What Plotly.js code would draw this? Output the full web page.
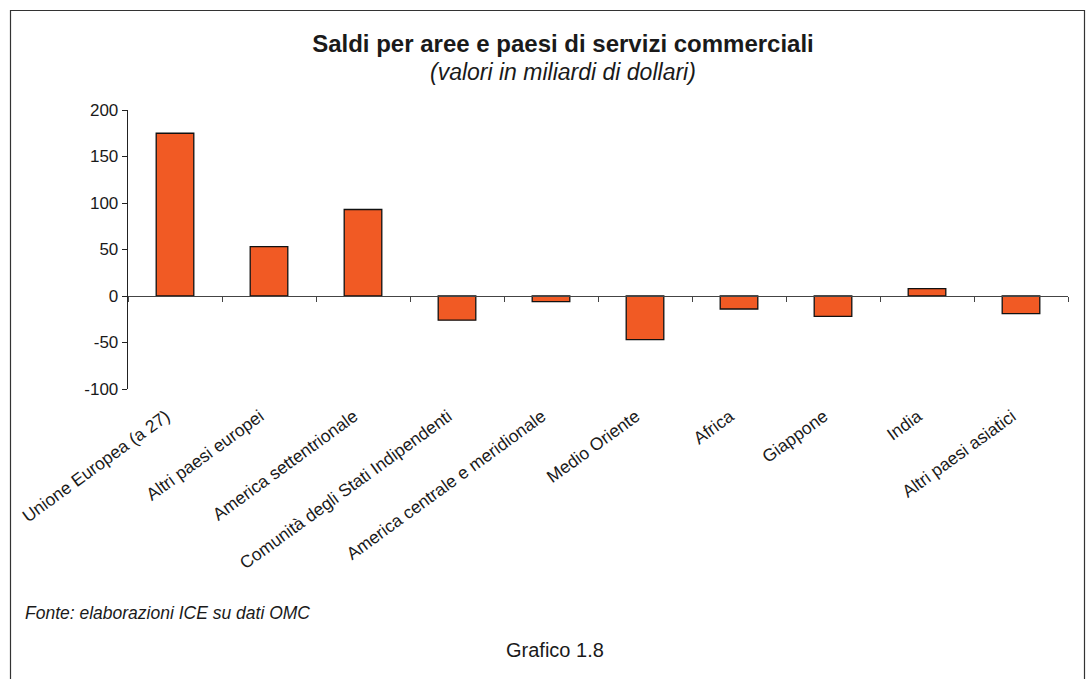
<!DOCTYPE html>
<html>
<head>
<meta charset="utf-8">
<script src="https://cdn.plot.ly/plotly-3.0.1.min.js"></script>
<style>
html,body{margin:0;padding:0;background:#fff;}
#chart{width:1091px;height:679px;}
</style>
</head>
<body>
<div id="chart"></div>
<script>
const categories = [
  "Unione Europea (a 27)",
  "Altri paesi europei",
  "America settentrionale",
  "Comunità degli Stati Indipendenti",
  "America centrale e meridionale",
  "Medio Oriente",
  "Africa",
  "Giappone",
  "India",
  "Altri paesi asiatici"
];
const saldi = [175, 53, 93, -26, -6, -47, -14, -22, 8, -19];
const yTicks = [-100, -50, 0, 50, 100, 150, 200];

const FONT = '"Liberation Sans", Arial, Helvetica, sans-serif';
const W = 1091, H = 679;
const L = 128, R = 1068, T = 110, B = 389;
const pw = R - L, ph = B - T;
const px = v => (v - L) / pw;
const py = v => (B - v) / ph;

const traces = [
  {
    type: 'bar',
    x: categories,
    y: saldi,
    xaxis: 'x',
    yaxis: 'y',
    marker: {color: '#F15A24', line: {color: '#111', width: 1.3}},
    hoverinfo: 'x+y'
  },
  {
    type: 'scatter',
    mode: 'markers',
    x: categories,
    y: categories.map(() => 0),
    xaxis: 'x2',
    yaxis: 'y',
    marker: {opacity: 0},
    hoverinfo: 'skip',
    showlegend: false
  }
];

const layout = {
  width: W, height: H,
  margin: {l: L, r: W - R, t: T, b: H - B, pad: 0},
  paper_bgcolor: '#fff',
  plot_bgcolor: '#fff',
  showlegend: false,
  bargap: 0.6,
  font: {family: FONT, color: '#1a1a1a'},
  title: {
    text: '<b>Saldi per aree e paesi di servizi commerciali</b>',
    font: {family: FONT, size: 24, color: '#1a1a1a'},
    xref: 'paper', x: px(563), xanchor: 'center',
    yref: 'container', y: 1 - 44 / H, yanchor: 'middle'
  },
  xaxis: {
    type: 'category',
    categoryarray: categories,
    range: [-0.5, categories.length - 0.5],
    showline: false,
    ticks: '',
    showgrid: false,
    zeroline: false,
    tickangle: -36,
    tickfont: {family: FONT, size: 17.5, color: '#1a1a1a'},
    ticklabelstandoff: 13,
    ticklabelshift: -9,
    fixedrange: true
  },
  xaxis2: {
    type: 'category',
    categoryarray: categories,
    range: [-0.5, categories.length - 0.5],
    overlaying: 'x',
    anchor: 'free',
    position: 100 / 300,
    showline: true,
    linecolor: '#444',
    linewidth: 1.3,
    ticks: 'outside',
    tickson: 'boundaries',
    ticklen: 5,
    tickcolor: '#444',
    showticklabels: false,
    showgrid: false,
    zeroline: false,
    fixedrange: true
  },
  yaxis: {
    range: [-100, 200],
    tickvals: yTicks,
    ticktext: yTicks.map(String),
    showline: true,
    linecolor: '#222',
    linewidth: 1.3,
    ticks: 'outside',
    ticklen: 5,
    tickcolor: '#222',
    showgrid: false,
    zeroline: false,
    tickfont: {family: FONT, size: 17, color: '#1a1a1a'},
    fixedrange: true
  },
  annotations: [
    {
      text: '<i>(valori in miliardi di dollari)</i>',
      xref: 'paper', yref: 'paper',
      x: px(563), y: py(72), xanchor: 'center', yanchor: 'middle',
      showarrow: false,
      font: {family: FONT, size: 23, color: '#1a1a1a'}
    },
    {
      text: '<i>Fonte: elaborazioni ICE su dati OMC</i>',
      xref: 'paper', yref: 'paper',
      x: px(23), y: py(613), xanchor: 'left', yanchor: 'middle',
      showarrow: false,
      font: {family: FONT, size: 17.5, color: '#1a1a1a'}
    },
    {
      text: 'Grafico 1.8',
      xref: 'paper', yref: 'paper',
      x: px(555), y: py(650), xanchor: 'center', yanchor: 'middle',
      showarrow: false,
      font: {family: FONT, size: 20, color: '#1a1a1a'}
    }
  ],
  shapes: [
    {
      type: 'rect', xref: 'paper', yref: 'paper', layer: 'above',
      x0: px(10.5), x1: px(1084.5), y0: py(700), y1: py(10.5),
      line: {color: '#333', width: 1.2}, fillcolor: 'rgba(0,0,0,0)'
    }
  ]
};

Plotly.newPlot('chart', traces, layout, {displayModeBar: false, staticPlot: true});
</script>
</body>
</html>
